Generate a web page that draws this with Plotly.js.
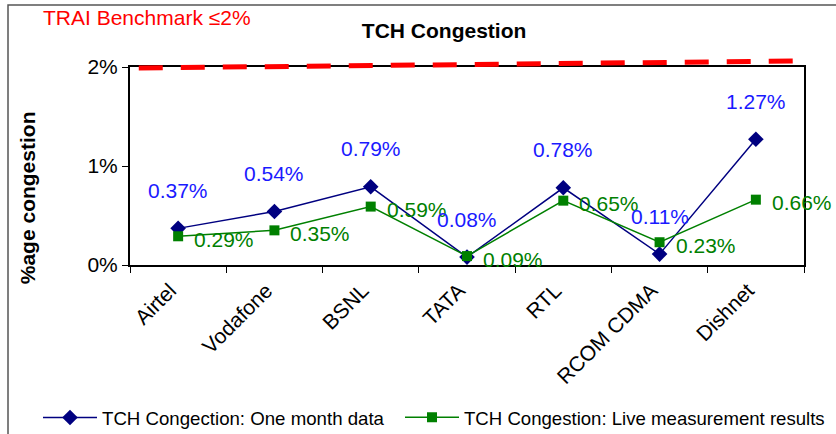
<!DOCTYPE html>
<html>
<head>
<meta charset="utf-8">
<script src="https://cdn.plot.ly/plotly-3.0.1.min.js"></script>
<style>
  body { margin: 0; background: #fff; }
  #chart { width: 836px; height: 434px; }
</style>
</head>
<body>
<div id="chart"></div>
<script>
// operators on the x axis
const operators = ['Airtel', 'Vodafone', 'BSNL', 'TATA', 'RTL', 'RCOM CDMA', 'Dishnet'];

// TCH congestion in %
const oneMonthData = [0.37, 0.54, 0.79, 0.08, 0.78, 0.11, 1.27];
const liveMeasurement = [0.29, 0.35, 0.59, 0.09, 0.65, 0.23, 0.66];

// TRAI benchmark line (drawn slightly tilted, as in the source sheet)
const benchmarkStart = 1.99;
const benchmarkEnd = 2.06;

const yTicks = [0, 1, 2];
const yMax = 2;

const font = 'Liberation Sans, Arial, sans-serif';
const blue = '#1a1aff';
const navy = '#000080';
const green = '#008000';

// the legend in the original uses a slightly condensed face; squeeze text to these widths
const legendTextWidths = [282, 360];

const traces = [
    {
        x: operators,
        y: oneMonthData,
        name: 'TCH Congection: One month data',
        type: 'scatter',
        mode: 'lines+markers',
        line: { color: navy, width: 1.5 },
        marker: { symbol: 'diamond', size: 12, color: navy },
        cliponaxis: false,
        legend: 'legend'
    },
    {
        x: operators,
        y: liveMeasurement,
        name: 'TCH Congestion: Live measurement results',
        type: 'scatter',
        mode: 'lines+markers',
        line: { color: green, width: 1.5 },
        marker: { symbol: 'square', size: 10, color: green },
        cliponaxis: false,
        legend: 'legend2'
    }
];

// value labels
const annotations = [];
operators.forEach((op, i) => {
    annotations.push({
        x: op, y: oneMonthData[i], xref: 'x', yref: 'y',
        text: oneMonthData[i].toFixed(2) + '%',
        showarrow: false, yshift: 38,
        font: { family: font, size: 21, color: blue }
    });
    annotations.push({
        x: op, y: liveMeasurement[i], xref: 'x', yref: 'y',
        text: liveMeasurement[i].toFixed(2) + '%',
        showarrow: false, xanchor: 'left', xshift: 14, yshift: -3,
        font: { family: font, size: 21, color: green }
    });
});

annotations.push({
    text: 'TRAI Benchmark ≤2%',
    xref: 'paper', yref: 'paper', x: 0.025, y: 1.248,
    xanchor: 'center', yanchor: 'middle',
    showarrow: false,
    font: { family: font, size: 21, color: '#ff0000' }
});
annotations.push({
    text: '<b>%age congestion</b>',
    xref: 'paper', yref: 'paper', x: -0.152, y: 0.34,
    xanchor: 'center', yanchor: 'middle',
    textangle: -90, showarrow: false,
    font: { family: font, size: 21, color: '#000' }
});

const legendStyle = {
    orientation: 'h',
    xanchor: 'left',
    y: -0.675, yanchor: 'top',
    font: { family: font, size: 19, color: '#000' },
    itemwidth: 54,
    bgcolor: 'rgba(0,0,0,0)'
};

const layout = {
    width: 836,
    height: 434,
    margin: { l: 130, r: 32, t: 67, b: 169, autoexpand: false },
    paper_bgcolor: '#fff',
    plot_bgcolor: '#fff',
    showlegend: true,
    title: {
        text: '<b>TCH Congestion</b>',
        font: { family: font, size: 21, color: '#000' },
        xref: 'paper', x: 0.466, xanchor: 'center',
        yref: 'container', y: 0.93, yanchor: 'middle'
    },
    xaxis: {
        type: 'category',
        automargin: false,
        tickson: 'boundaries',
        ticks: 'outside',
        ticklen: 6,
        tickcolor: '#000',
        tickangle: -45,
        ticklabelshift: -8,
        ticklabelstandoff: 3,
        tickfont: { family: font, size: 21, color: '#000' },
        showline: true,
        linecolor: '#000',
        linewidth: 2,
        mirror: true,
        showgrid: false,
        zeroline: false,
        range: [-0.5, 6.5]
    },
    yaxis: {
        automargin: false,
        range: [0, yMax],
        tickvals: yTicks,
        ticktext: yTicks.map(v => v + '%'),
        ticks: 'outside',
        ticklen: 6,
        tickcolor: '#000',
        tickfont: { family: font, size: 21, color: '#000' },
        showline: true,
        linecolor: '#000',
        linewidth: 2,
        mirror: true,
        showgrid: false,
        zeroline: false
    },
    legend: Object.assign({}, legendStyle, { x: -0.1365 }),
    legend2: Object.assign({}, legendStyle, { x: 0.4006, font: { family: font, size: 18.6, color: '#000' } }),
    shapes: [
        {
            // y domain refs are not clipped, so the dashes can poke above the frame
            type: 'line', xref: 'paper', yref: 'y domain',
            x0: 0.013, x1: 0.985, y0: benchmarkStart / yMax, y1: benchmarkEnd / yMax,
            line: { color: '#ff0000', width: 5, dash: '24px,18px' }
        },
        {
            type: 'rect', xref: 'paper', yref: 'paper',
            x0: -0.181, x1: 1.06, y0: -0.9, y1: 1.313,
            line: { color: '#555', width: 1.5 }
        }
    ],
    annotations: annotations
};

Plotly.newPlot('chart', traces, layout, { displayModeBar: false, staticPlot: true }).then(gd => {
    gd.querySelectorAll('.legendtext').forEach((t, i) => {
        t.setAttribute('textLength', legendTextWidths[i]);
        t.setAttribute('lengthAdjust', 'spacingAndGlyphs');
    });
});
</script>
</body>
</html>
